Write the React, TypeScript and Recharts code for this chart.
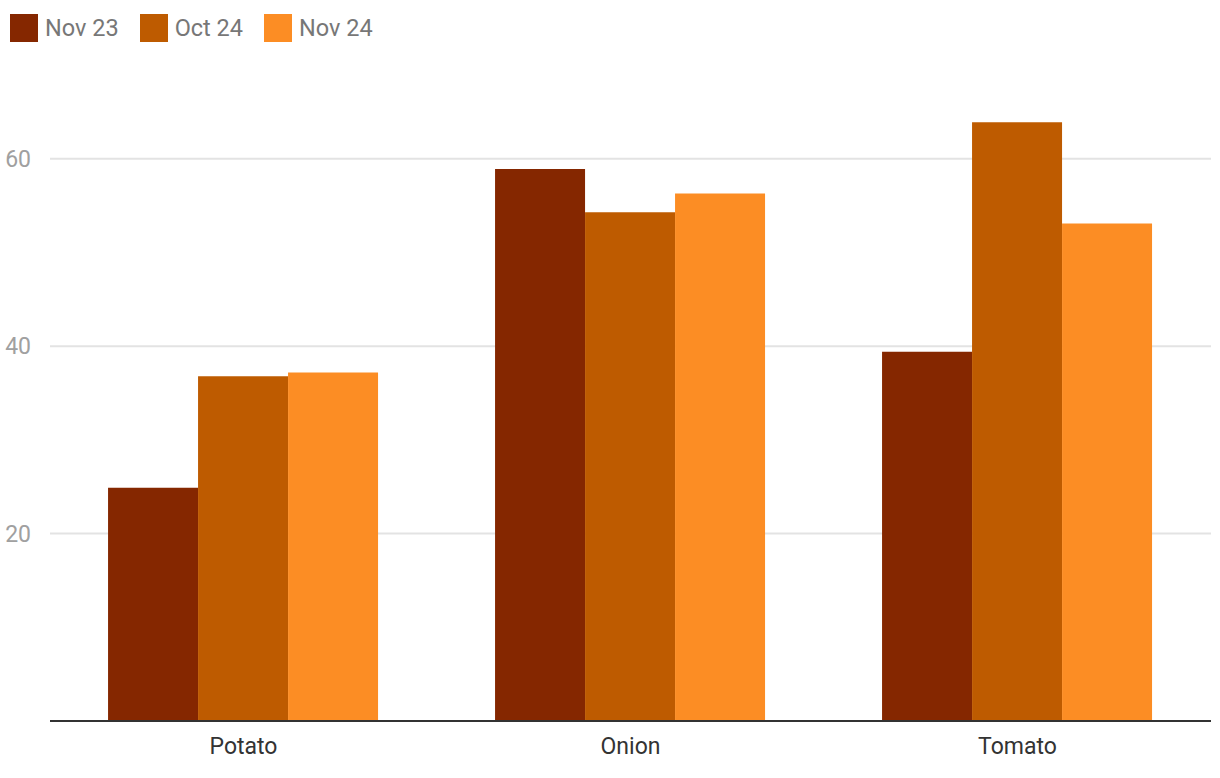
import React from 'react';
import { BarChart, Bar, XAxis, YAxis, CartesianGrid } from 'recharts';

const categories = ['Potato', 'Onion', 'Tomato'];
const nov23 = [24.9, 58.9, 39.4];
const oct24 = [36.8, 54.3, 63.9];
const nov24 = [37.2, 56.3, 53.1];
const yTicks = [20, 40, 60];

const series = [
  { key: 'nov23', name: 'Nov 23', color: '#852700' },
  { key: 'oct24', name: 'Oct 24', color: '#be5b00' },
  { key: 'nov24', name: 'Nov 24', color: '#fc8d24' },
];

const data = categories.map((name, i) => ({
  name,
  nov23: nov23[i],
  oct24: oct24[i],
  nov24: nov24[i],
}));

const font = 'Roboto, "Noto Sans", sans-serif';

export default function App() {
  return (
    <div style={{ position: 'absolute', left: 0, top: 0, width: 1220, height: 778, background: '#fff', fontFamily: font }}>
      {/* legend */}
      <div style={{ position: 'absolute', left: 10, top: 14, display: 'flex', alignItems: 'center' }}>
        {series.map((s) => (
          <div key={s.key} style={{ display: 'flex', alignItems: 'center', marginRight: 21 }}>
            <span style={{ width: 28, height: 28, background: s.color, display: 'inline-block', marginRight: 7 }} />
            <span style={{ fontSize: 23.5, color: '#777', lineHeight: '28px' }}>{s.name}</span>
          </div>
        ))}
      </div>
      <BarChart
        width={1220}
        height={778}
        data={data}
        margin={{ top: 65, right: 9, bottom: 27, left: 0 }}
        barCategoryGap="15%"
        barGap={0}
      >
        <CartesianGrid vertical={false} horizontalValues={yTicks} stroke="#e3e3e3" strokeWidth={2} />
        <YAxis
          width={50}
          domain={[0, 70]}
          ticks={yTicks}
          axisLine={false}
          tickLine={false}
          tickMargin={13}
          tick={{ fill: '#a0a0a0', fontSize: 23, fontFamily: font }}
        />
        <XAxis
          dataKey="name"
          height={30}
          axisLine={{ stroke: '#333', strokeWidth: 2 }}
          tickLine={false}
          tickMargin={11}
          tick={{ fill: '#333', fontSize: 23, fontFamily: font }}
        />
        {series.map((s) => (
          <Bar key={s.key} dataKey={s.key} name={s.name} fill={s.color} isAnimationActive={false} />
        ))}
      </BarChart>
    </div>
  );
}
